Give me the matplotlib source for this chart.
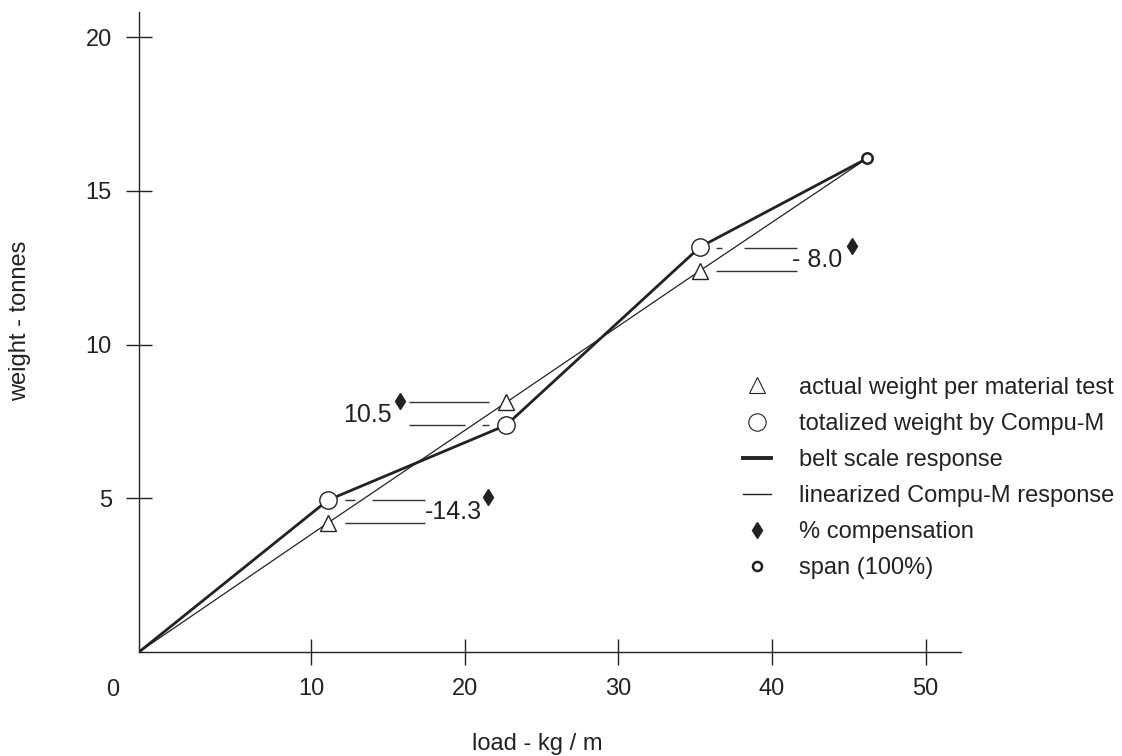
import matplotlib
matplotlib.use("Agg")
import matplotlib.pyplot as plt

plt.rcParams['font.family'] = ['Liberation Sans', 'DejaVu Sans']

# test points (load kg/m, weight tonnes)
load_pts = [-1.2, 11.1, 22.7, 35.3, 46.2]
actual = [0, 4.2, 8.12, 12.4, 16.06]       # linearized / material test
totalized = [0, 4.94, 7.38, 13.17, 16.06]  # belt scale / Compu-M
test_x = [11.1, 22.7, 35.3]
span_x, span_y = 46.2, 16.06

# % compensation annotations
comp_labels = ['-14.3', '10.5', '- 8.0']
comp_x = [21.5, 15.77, 45.2]
comp_y = [5.04, 8.18, 13.2]
label_x = [17.4, 15.25, 41.3]
label_y = [4.56, 7.7, 12.75]

# leader lines: (y, x start, x end)
solid_y = [4.2, 4.94, 8.12, 7.38, 12.4, 13.13]
solid_x0 = [12.2, 13.95, 16.35, 16.35, 36.33, 38.15]
solid_x1 = [17.4, 17.4, 21.6, 20.0, 41.6, 41.6]
dash_y = [4.94, 7.38, 13.13]
dash_x0 = [12.2, 21.1, 36.33]
dash_x1 = [12.85, 21.6, 36.72]

ink = '#222222'

fig = plt.figure(figsize=(11.22, 7.56), dpi=100)
ax = fig.add_axes([0.1239, 0.1376, 0.7326, 0.8465])

ax.plot(load_pts, totalized, color=ink, lw=2.0, zorder=2)
ax.plot(load_pts, actual, color=ink, lw=0.9, zorder=2)
ax.plot(test_x, totalized[1:4], 'o', ms=12.5, mfc='white', mec=ink, mew=1.0, zorder=3)
ax.plot(test_x, actual[1:4], '^', ms=11.5, mfc='white', mec=ink, mew=1.0, zorder=3)
ax.plot([span_x], [span_y], 'o', ms=7.5, mfc='white', mec=ink, mew=1.8, zorder=3)

ax.hlines(solid_y, solid_x0, solid_x1, color='#333333', lw=1.0)
ax.hlines(dash_y, dash_x0, dash_x1, color='#333333', lw=1.0)
ax.plot(comp_x, comp_y, 'd', ms=8, color=ink)
for t, x, y in zip(comp_labels, label_x, label_y):
    ha = 'right' if t == '10.5' else 'left'
    ax.text(x, y, t, fontsize=18, ha=ha, va='center', color=ink)

ax.set_xlim(-1.2, 52.3)
ax.set_ylim(0, 20.82)
ax.set_xticks([10, 20, 30, 40, 50])
ax.set_yticks([5, 10, 15, 20])
ax.tick_params(direction='inout', length=19, width=1, colors=ink, labelsize=17, pad=9)
ax.tick_params(axis='y', pad=10)
for s in ['top', 'right']:
    ax.spines[s].set_visible(False)
for s in ['left', 'bottom']:
    ax.spines[s].set_color(ink)
    ax.spines[s].set_linewidth(1)
ax.text(-0.032, -0.06, '0', transform=ax.transAxes, fontsize=17, ha='center', va='center', color=ink)

fig.text(0.018, 0.575, 'weight - tonnes', rotation=90, ha='center', va='center', fontsize=17, color=ink)
fig.text(0.4786, 0.016, 'load - kg / m', ha='center', va='center', fontsize=17, color=ink)

# legend
h = [
    plt.Line2D([], [], ls='none', marker='^', ms=11.5, mfc='white', mec=ink, mew=0.8),
    plt.Line2D([], [], ls='none', marker='o', ms=12.5, mfc='white', mec=ink, mew=0.8),
    plt.Line2D([], [], color=ink, lw=2.8),
    plt.Line2D([], [], color=ink, lw=1.0),
    plt.Line2D([], [], ls='none', marker='d', ms=8, color=ink),
    plt.Line2D([], [], ls='none', marker='o', ms=6.5, mfc='white', mec=ink, mew=1.8),
]
labels = ['actual weight per material test', 'totalized weight by Compu-M',
          'belt scale response', 'linearized Compu-M response',
          '% compensation', 'span (100%)']
ax.legend(h, labels, loc='upper left', bbox_to_anchor=(0.7234, 0.445), frameon=False,
          fontsize=17, handlelength=1.2, handletextpad=1.15, labelspacing=0.6,
          borderaxespad=0, labelcolor=ink)

fig.savefig('out.png', dpi=100)
